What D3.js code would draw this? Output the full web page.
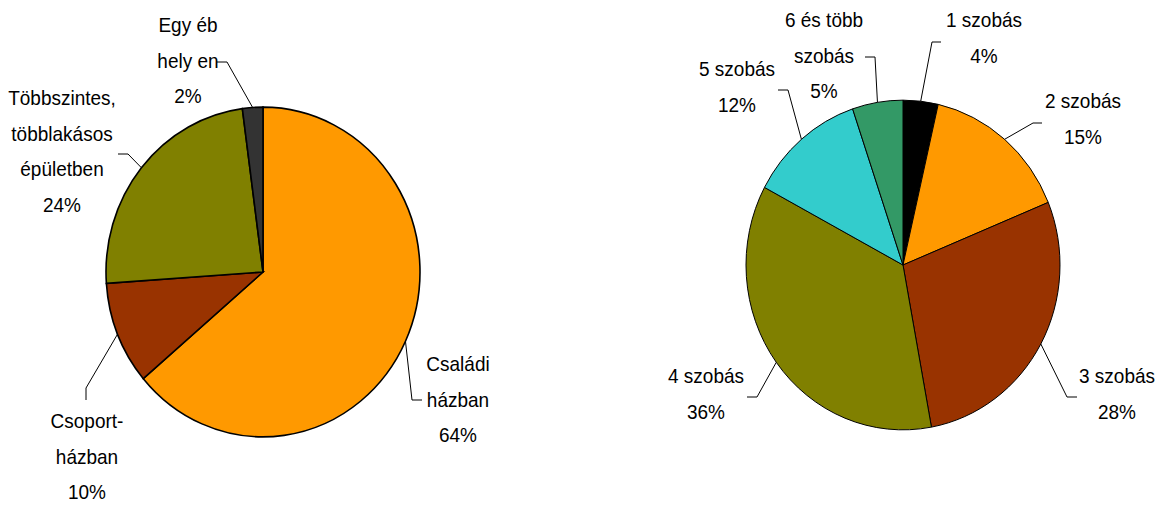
<!DOCTYPE html>
<html>
<head>
<meta charset="utf-8">
<script src="https://cdn.jsdelivr.net/npm/d3@7"></script>
<style>
  body { margin: 0; background: #fff; }
  text { font-family: "Liberation Sans", Arial, sans-serif; font-size: 19px; fill: #000; }
</style>
</head>
<body>
<div id="svg"></div>
<script>
/* Data: left pie (where the homes are). */
const leftLabels = [["Családi", "házban"], ["Csoport-", "házban"], ["Többszintes,", "többlakásos", "épületben"], ["Egy éb", "hely en"]]
const leftValues = [63.8, 10.1, 24.0, 2.1]
const leftColors = ["#FF9900", "#993300", "#808000", "#333333"]

/* Data: right pie (number of rooms). */
const rightLabels = [["1 szobás"], ["2 szobás"], ["3 szobás"], ["4 szobás"], ["5 szobás"], ["6 és több", "szobás"]]
const rightValues = [3.6, 15.2, 28.3, 35.7, 12.0, 5.2]
const rightColors = ["#000000", "#FF9900", "#993300", "#808000", "#33CCCC", "#339966"]

/* Label layout: text centre x, first line y, leader elbow, leader stub end. */
const leftLayout = [
  { tx: 458, ty: 364, elbow: [412, 400], stub: [422, 400] },
  { tx: 87, ty: 421, elbow: [86, 388], stub: [86, 400] },
  { tx: 62, ty: 98, elbow: [128, 154], stub: [118, 154] },
  { tx: 188, ty: 25, elbow: [227, 62], stub: [217, 62] }
]
const rightLayout = [
  { tx: 984, ty: 20, elbow: [932, 42], stub: [941, 42] },
  { tx: 1083, ty: 101, elbow: [1033, 123], stub: [1042, 123] },
  { tx: 1117, ty: 376, elbow: [1067, 397], stub: [1077, 397] },
  { tx: 706, ty: 376, elbow: [757, 397], stub: [747, 397] },
  { tx: 737, ty: 69, elbow: [788, 90], stub: [778, 90] },
  { tx: 824, ty: 20, elbow: [875, 57], stub: [865, 57] }
]

const width = 1162
const height = 505
const radius = 157
const stretchY = 1.05
const textStretchY = 1.1
const lineHeight = 35.5

const svg = d3.select("#svg")
  .append("svg")
  .attr("width", width)
  .attr("height", height)

const pie = d3.pie().sort(null).value(d => d)
const arc = d3.arc().innerRadius(0).outerRadius(radius)

/* Draw one pie with its labels and leader lines. */
const drawPie = (cx, cy, values, labels, colors, layout, strokeWidth) => {
  const arcs = pie(values)

  svg.append("g")
    .attr("transform", `translate(${cx},${cy}) scale(1,${stretchY})`)
    .selectAll("path")
    .data(arcs)
    .enter()
    .append("path")
    .attr("d", arc)
    .attr("fill", (d, i) => colors[i])
    .attr("stroke", "#000")
    .attr("stroke-width", strokeWidth)
    .attr("vector-effect", "non-scaling-stroke")

  arcs.forEach((d, i) => {
    const mid = (d.startAngle + d.endAngle) / 2
    const edge = [cx + radius * Math.sin(mid), cy - radius * stretchY * Math.cos(mid)]
    const l = layout[i]

    svg.append("path")
      .attr("d", d3.line()([edge, l.elbow, l.stub]))
      .attr("fill", "none")
      .attr("stroke", "#000")
      .attr("stroke-width", 1)

    const lines = labels[i].concat([`${Math.round(values[i])}%`])
    svg.append("g")
      .selectAll("text")
      .data(lines)
      .enter()
      .append("text")
      .attr("transform", (t, j) => `translate(${l.tx},${l.ty + j * lineHeight}) scale(1,${textStretchY})`)
      .attr("dy", "0.35em")
      .attr("text-anchor", "middle")
      .text(t => t)
  })
}

drawPie(263, 272, leftValues, leftLabels, leftColors, leftLayout, 1.6)
drawPie(903, 265, rightValues, rightLabels, rightColors, rightLayout, 1)
</script>
</body>
</html>
